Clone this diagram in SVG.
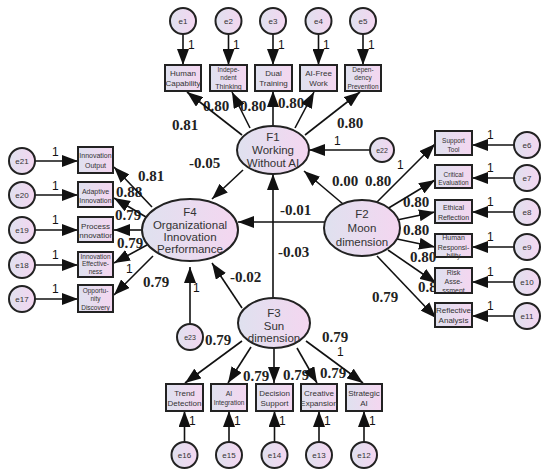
<svg xmlns="http://www.w3.org/2000/svg" width="550" height="476" viewBox="0 0 550 476">
<defs>
<linearGradient id="g" x1="0" y1="0" x2="1" y2="0">
<stop offset="0" stop-color="#dfe1ef"/>
<stop offset="1" stop-color="#f4d6f0"/>
</linearGradient>
<marker id="arr" markerUnits="userSpaceOnUse" markerWidth="16" markerHeight="12" refX="16" refY="6" orient="auto">
<path d="M0,0 L16,6 L0,12 z" fill="#111"/>
</marker>
<style>
.nd ellipse,.nd rect,.nd circle{fill:url(#g);stroke:#222;stroke-width:2}
.nd text{font-family:"Liberation Sans",Arial,sans-serif;fill:#333;text-anchor:middle}
.big{font-size:11.5px}
.b8{font-size:8px}
.b7{font-size:7px}
.b65{font-size:6.5px}
.e{font-size:8px}
.cn line{stroke:#111;stroke-width:1.6;marker-end:url(#arr)}
.lab{font-family:"Liberation Serif","Times New Roman",serif;font-weight:bold;font-size:15px;fill:#222}
.one{font-family:"Liberation Sans",Arial,sans-serif;font-size:12px;fill:#111}
</style>
</defs>
<rect width="550" height="476" fill="#fff"/>

<g id="labels">
<text class="lab" x="172" y="130">0.81</text>
<text class="lab" x="203" y="111">0.80</text>
<text class="lab" x="240" y="111">0.80</text>
<text class="lab" x="278" y="108">0.80</text>
<text class="lab" x="337" y="128">0.80</text>
<text class="lab" x="189" y="168">-0.05</text>
<text class="one" x="334" y="145">1</text>
<text class="one" x="397" y="169">1</text>
<text class="lab" x="332" y="186">0.00</text>
<text class="lab" x="365" y="186">0.80</text>
<text class="lab" x="403" y="207">0.80</text>
<text class="lab" x="403" y="235">0.80</text>
<text class="lab" x="410" y="262">0.80</text>
<text class="lab" x="418" y="292">0.80</text>
<text class="lab" x="372" y="302">0.79</text>
<text class="lab" x="280" y="215">-0.01</text>
<text class="lab" x="278" y="257">-0.03</text>
<text class="lab" x="230" y="282">-0.02</text>
<text class="lab" x="138" y="181">0.81</text>
<text class="lab" x="116" y="197">0.88</text>
<text class="lab" x="115" y="220">0.79</text>
<text class="lab" x="117" y="248">0.79</text>
<text class="one" x="126" y="273">1</text>
<text class="lab" x="143" y="287">0.79</text>
<text class="one" x="193" y="292">1</text>
<text class="lab" x="205" y="345">0.79</text>
<text class="lab" x="322" y="342">0.79</text>
<text class="one" x="337" y="356">1</text>
<text class="lab" x="243" y="381">0.79</text>
<text class="lab" x="283" y="380">0.79</text>
<text class="lab" x="320" y="378">0.79</text>
<text class="one" x="188" y="49">1</text>
<text class="one" x="233" y="49">1</text>
<text class="one" x="278" y="49">1</text>
<text class="one" x="323" y="49">1</text>
<text class="one" x="368" y="49">1</text>
<text class="one" x="52" y="156">1</text>
<text class="one" x="52" y="190">1</text>
<text class="one" x="52" y="224">1</text>
<text class="one" x="52" y="259">1</text>
<text class="one" x="52" y="293">1</text>
<text class="one" x="487" y="139">1</text>
<text class="one" x="487" y="172">1</text>
<text class="one" x="487" y="206">1</text>
<text class="one" x="487" y="241">1</text>
<text class="one" x="487" y="276">1</text>
<text class="one" x="487" y="310">1</text>
<text class="one" x="189" y="425">1</text>
<text class="one" x="234" y="425">1</text>
<text class="one" x="279" y="425">1</text>
<text class="one" x="324" y="425">1</text>
<text class="one" x="369" y="425">1</text>
</g>

<g id="connectors" class="cn">
<line x1="242" y1="135" x2="187" y2="92"/>
<line x1="250" y1="128" x2="232" y2="92"/>
<line x1="273" y1="126" x2="273" y2="91"/>
<line x1="295" y1="128" x2="314" y2="92"/>
<line x1="305" y1="135" x2="360" y2="92"/>
<line x1="243" y1="170" x2="212" y2="199"/>
<line x1="370" y1="150" x2="309" y2="150"/>
<line x1="343" y1="204" x2="304" y2="171"/>
<line x1="324" y1="222" x2="238" y2="222"/>
<line x1="273" y1="298" x2="273" y2="174"/>
<line x1="242" y1="308" x2="212" y2="263"/>
<line x1="190" y1="324" x2="190" y2="267"/>
<line x1="152" y1="207" x2="114" y2="167"/>
<line x1="146" y1="217" x2="114" y2="198"/>
<line x1="142" y1="230" x2="114" y2="230"/>
<line x1="147" y1="245" x2="114" y2="263"/>
<line x1="153" y1="256" x2="114" y2="295"/>
<line x1="375" y1="204" x2="435" y2="144"/>
<line x1="387" y1="209" x2="435" y2="180"/>
<line x1="397" y1="220" x2="435" y2="212"/>
<line x1="397" y1="239" x2="435" y2="247"/>
<line x1="388" y1="250" x2="436" y2="283"/>
<line x1="377" y1="256" x2="436" y2="318"/>
<line x1="242" y1="341" x2="185" y2="383"/>
<line x1="251" y1="347" x2="228" y2="383"/>
<line x1="274" y1="348" x2="274" y2="383"/>
<line x1="297" y1="348" x2="317" y2="383"/>
<line x1="306" y1="341" x2="363" y2="383"/>
<line x1="183" y1="34" x2="183" y2="65"/>
<line x1="228.5" y1="34" x2="228.5" y2="65"/>
<line x1="273" y1="34" x2="273" y2="65"/>
<line x1="318.5" y1="34" x2="318.5" y2="65"/>
<line x1="363" y1="34" x2="363" y2="65"/>
<line x1="35" y1="161" x2="78" y2="161"/>
<line x1="35" y1="195" x2="78" y2="195"/>
<line x1="35" y1="230" x2="78" y2="230"/>
<line x1="35" y1="265" x2="78" y2="265"/>
<line x1="35" y1="299" x2="78" y2="299"/>
<line x1="514" y1="145" x2="472" y2="145"/>
<line x1="514" y1="178" x2="472" y2="178"/>
<line x1="514" y1="212" x2="472" y2="212"/>
<line x1="514" y1="247" x2="472" y2="247"/>
<line x1="514" y1="282" x2="472" y2="282"/>
<line x1="514" y1="316" x2="472" y2="316"/>
<line x1="184.5" y1="442" x2="184.5" y2="411"/>
<line x1="229" y1="442" x2="229" y2="411"/>
<line x1="274.5" y1="442" x2="274.5" y2="411"/>
<line x1="319" y1="442" x2="319" y2="411"/>
<line x1="364" y1="442" x2="364" y2="411"/>
</g>

<g id="F1" class="nd"><ellipse cx="273" cy="150" rx="36" ry="24"/><text class="big" x="273" y="141">F1</text><text class="big" x="273" y="154">Working</text><text class="big" x="273" y="167">Without AI</text></g>
<g id="F4" class="nd"><ellipse cx="190" cy="230" rx="48" ry="31"/><text class="big" x="190" y="216">F4</text><text class="big" x="190" y="229">Organizational</text><text class="big" x="190" y="241">Innovation</text><text class="big" x="190" y="253">Performance</text></g>
<g id="F2" class="nd"><ellipse cx="362" cy="228" rx="38" ry="28"/><text class="big" x="362" y="218">F2</text><text class="big" x="362" y="232">Moon</text><text class="big" x="362" y="246">dimension</text></g>
<g id="F3" class="nd"><ellipse cx="274" cy="323" rx="36" ry="25"/><text class="big" x="274" y="317">F3</text><text class="big" x="274" y="330">Sun</text><text class="big" x="274" y="342">dimension</text></g>

<g id="v_human" class="nd"><rect x="165" y="65" width="36" height="26"/><text class="b8" x="183" y="76">Human</text><text class="b8" x="183" y="86">Capability</text></g>
<g id="v_indep" class="nd"><rect x="210" y="65" width="37" height="26"/><text class="b65" x="228.5" y="72">Indepe-</text><text class="b65" x="228.5" y="80">ndent</text><text class="b7" x="228.5" y="88.5">Thinking</text></g>
<g id="v_dual" class="nd"><rect x="255" y="65" width="37" height="26"/><text class="b8" x="273.5" y="76">Dual</text><text class="b8" x="273.5" y="86">Training</text></g>
<g id="v_aifree" class="nd"><rect x="300" y="65" width="37" height="26"/><text class="b8" x="318.5" y="76">AI-Free</text><text class="b8" x="318.5" y="86">Work</text></g>
<g id="v_depend" class="nd"><rect x="345" y="65" width="36" height="26"/><text class="b65" x="363" y="72">Depen-</text><text class="b65" x="363" y="80">dency</text><text class="b65" x="363" y="88.5">Prevention</text></g>

<g id="v_output" class="nd"><rect x="78" y="147" width="35" height="26"/><text class="b7" x="95.5" y="158">Innovation</text><text class="b7" x="95.5" y="167.5">Output</text></g>
<g id="v_adaptive" class="nd"><rect x="78" y="182" width="35" height="25"/><text class="b7" x="95.5" y="193.5">Adaptive</text><text class="b7" x="95.5" y="203">Innovation</text></g>
<g id="v_process" class="nd"><rect x="78" y="217" width="35" height="25"/><text class="b8" x="95.5" y="228.5">Process</text><text class="b8" x="95.5" y="238">Innovation</text></g>
<g id="v_effect" class="nd"><rect x="78" y="252" width="35" height="25"/><text class="b65" x="95.5" y="258.5">Innovation</text><text class="b65" x="95.5" y="266">Effective-</text><text class="b65" x="95.5" y="274">ness</text></g>
<g id="v_opport" class="nd"><rect x="78" y="285" width="35" height="27"/><text class="b65" x="95.5" y="292.5">Opportu-</text><text class="b65" x="95.5" y="301">nity</text><text class="b65" x="95.5" y="310">Discovery</text></g>

<g id="v_support" class="nd"><rect x="435" y="131" width="37" height="24"/><text class="b65" x="453.5" y="143">Support</text><text class="b65" x="453.5" y="151.5">Tool</text></g>
<g id="v_critical" class="nd"><rect x="435" y="165" width="37" height="23"/><text class="b65" x="453.5" y="176.5">Critical</text><text class="b65" x="453.5" y="185">Evaluation</text></g>
<g id="v_ethical" class="nd"><rect x="435" y="200" width="37" height="23"/><text class="b7" x="453.5" y="210">Ethical</text><text class="b7" x="453.5" y="219.5">Reflection</text></g>
<g id="v_humanresp" class="nd"><rect x="435" y="234" width="37" height="23"/><text class="b7" x="453.5" y="240">Human</text><text class="b7" x="453.5" y="249.5">Responsi-</text><text class="b7" x="453.5" y="258">bility</text></g>
<g id="v_risk" class="nd"><rect x="435" y="268" width="37" height="25"/><text class="b7" x="453.5" y="274.5">Risk</text><text class="b7" x="453.5" y="284">Asse-</text><text class="b7" x="453.5" y="293">ssment</text></g>
<g id="v_reflect" class="nd"><rect x="435" y="303" width="37" height="24"/><text class="b8" x="453.5" y="313">Reflective</text><text class="b8" x="453.5" y="323">Analysis</text></g>

<g id="v_trend" class="nd"><rect x="166" y="384" width="37" height="27"/><text class="b8" x="184.5" y="396">Trend</text><text class="b8" x="184.5" y="405.5">Detection</text></g>
<g id="v_aiint" class="nd"><rect x="211" y="384" width="36" height="27"/><text class="b7" x="229" y="395.5">AI</text><text class="b65" x="229" y="404.5">Integration</text></g>
<g id="v_decision" class="nd"><rect x="256" y="384" width="37" height="27"/><text class="b8" x="274.5" y="396">Decision</text><text class="b8" x="274.5" y="405.5">Support</text></g>
<g id="v_creative" class="nd"><rect x="301" y="384" width="36" height="27"/><text class="b8" x="319" y="396">Creative</text><text class="b8" x="319" y="405.5">Expansion</text></g>
<g id="v_strategic" class="nd"><rect x="346" y="384" width="36" height="27"/><text class="b8" x="364" y="396">Strategic</text><text class="b8" x="364" y="405.5">AI</text></g>

<g id="e1" class="nd"><circle cx="183" cy="21" r="13"/><text class="e" x="183" y="24">e1</text></g>
<g id="e2" class="nd"><circle cx="228.5" cy="21" r="13"/><text class="e" x="228.5" y="24">e2</text></g>
<g id="e3" class="nd"><circle cx="273" cy="21" r="13"/><text class="e" x="273" y="24">e3</text></g>
<g id="e4" class="nd"><circle cx="318.5" cy="21" r="13"/><text class="e" x="318.5" y="24">e4</text></g>
<g id="e5" class="nd"><circle cx="363" cy="21" r="13"/><text class="e" x="363" y="24">e5</text></g>
<g id="e21" class="nd"><circle cx="22" cy="161" r="13"/><text class="e" x="22" y="164">e21</text></g>
<g id="e20" class="nd"><circle cx="22" cy="195" r="13"/><text class="e" x="22" y="198">e20</text></g>
<g id="e19" class="nd"><circle cx="22" cy="230" r="13"/><text class="e" x="22" y="233">e19</text></g>
<g id="e18" class="nd"><circle cx="22" cy="265" r="13"/><text class="e" x="22" y="268">e18</text></g>
<g id="e17" class="nd"><circle cx="22" cy="299" r="13"/><text class="e" x="22" y="302">e17</text></g>
<g id="e6" class="nd"><circle cx="527" cy="145" r="13"/><text class="e" x="527" y="148">e6</text></g>
<g id="e7" class="nd"><circle cx="527" cy="178" r="13"/><text class="e" x="527" y="181">e7</text></g>
<g id="e8" class="nd"><circle cx="527" cy="212" r="13"/><text class="e" x="527" y="215">e8</text></g>
<g id="e9" class="nd"><circle cx="527" cy="247" r="13"/><text class="e" x="527" y="250">e9</text></g>
<g id="e10" class="nd"><circle cx="527" cy="282" r="13"/><text class="e" x="527" y="285">e10</text></g>
<g id="e11" class="nd"><circle cx="527" cy="316" r="13"/><text class="e" x="527" y="319">e11</text></g>
<g id="e16" class="nd"><circle cx="184.5" cy="455" r="13"/><text class="e" x="184.5" y="458">e16</text></g>
<g id="e15" class="nd"><circle cx="229" cy="455" r="13"/><text class="e" x="229" y="458">e15</text></g>
<g id="e14" class="nd"><circle cx="274.5" cy="455" r="13"/><text class="e" x="274.5" y="458">e14</text></g>
<g id="e13" class="nd"><circle cx="319" cy="455" r="13"/><text class="e" x="319" y="458">e13</text></g>
<g id="e12" class="nd"><circle cx="364" cy="455" r="13"/><text class="e" x="364" y="458">e12</text></g>
<g id="e22" class="nd"><circle cx="382" cy="150" r="12"/><text class="b7" x="382" y="152.5">e22</text></g>
<g id="e23" class="nd"><circle cx="190" cy="337" r="13"/><text class="b7" x="190" y="339.5">e23</text></g>
</svg>
